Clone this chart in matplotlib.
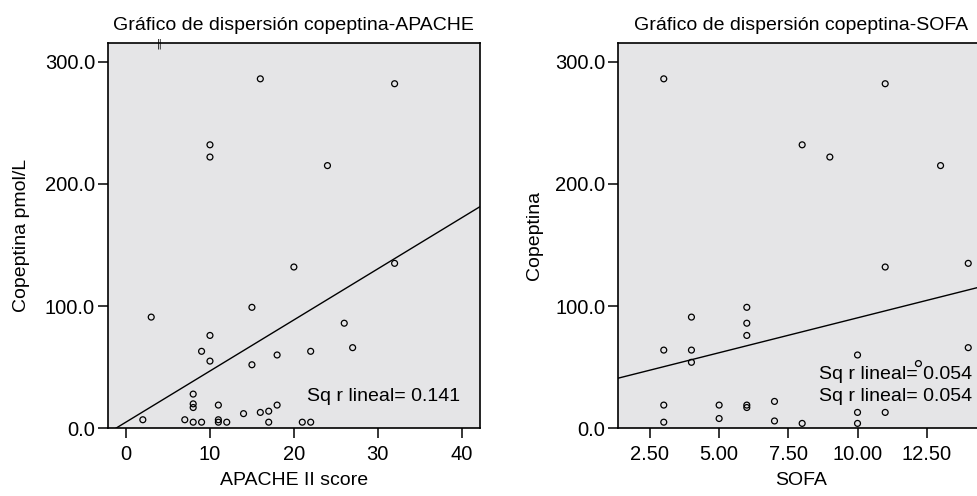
import numpy as np
import matplotlib
matplotlib.use('Agg')
import matplotlib.pyplot as plt

# APACHE II score vs copeptina (pmol/L)
apache_x = [16, 32, 10, 10, 24, 32, 20, 3, 15, 26, 10, 9, 22, 27, 10, 18, 15,
            8, 8, 8, 11, 18, 14, 16, 17, 2, 7, 8, 9, 11, 11, 12, 17, 21, 22]
apache_y = [286, 282, 232, 222, 215, 135, 132, 91, 99, 86, 76, 63, 63, 66, 55, 60, 52,
            28, 20, 17, 19, 19, 12, 13, 14, 7, 7, 5, 5, 7, 5, 5, 5, 5, 5]

# SOFA vs copeptina
sofa_x = [3, 11, 8, 9, 13, 14, 11, 4, 6, 6, 6, 3, 4, 4, 14, 10, 12.2,
          3, 5, 6, 6, 7, 3, 5, 7, 8, 10, 10, 11]
sofa_y = [286, 282, 232, 222, 215, 135, 132, 91, 99, 86, 76, 64, 64, 54, 66, 60, 53,
          19, 19, 19, 17, 22, 5, 8, 6, 4, 13, 4, 13]

# fitted lines (intercept, slope)
apache_fit = (5.1, 4.18)
sofa_fit = (33.3, 5.71)
apache_r2 = '0.141'
sofa_r2 = '0.054'

APACHE_TICKS = [0, 10, 20, 30, 40]
SOFA_TICKS = [2.5, 5.0, 7.5, 10.0, 12.5]
Y_TICKS = [0, 100, 200, 300]

BG = '#e5e5e7'
FS = 14

plt.rcParams['font.family'] = ['Liberation Sans', 'DejaVu Sans']

fig = plt.figure(figsize=(9.78, 4.96), dpi=100)
ax1 = fig.add_axes([0.110, 0.1365, 0.381, 0.776])
ax2 = fig.add_axes([0.632, 0.1365, 0.375, 0.776])


def style(ax):
    ax.set_facecolor(BG)
    for s in ax.spines.values():
        s.set_linewidth(1.2)
    ax.tick_params(direction='out', length=7, width=1.1, labelsize=14.5,
                   top=False, right=False, pad=2)
    ax.tick_params(axis='x', pad=5)
    ax.set_ylim(0, 315)
    ax.set_yticks(Y_TICKS)
    ax.set_yticklabels(['%.1f' % v for v in Y_TICKS])


# left panel
style(ax1)
ax1.set_xlim(-2.2, 42.2)
ax1.set_xticks(APACHE_TICKS)
ax1.scatter(apache_x, apache_y, s=18, facecolors='none', edgecolors='black',
            linewidths=0.9, zorder=3)
xs = np.array(ax1.get_xlim())
ax1.plot(xs, apache_fit[0] + apache_fit[1] * xs, color='black', lw=1.0)
ax1.text(0.945, 0.082, 'Sq r lineal= ' + apache_r2, transform=ax1.transAxes,
         ha='right', va='center', fontsize=FS)
ax1.text(3.9, 315, '\u2016', ha='center', va='center', fontsize=7,
         family='DejaVu Sans', clip_on=False)
ax1.set_title('Gráfico de dispersión copeptina-APACHE', fontsize=FS, pad=10)
ax1.set_xlabel('APACHE II score', fontsize=FS, labelpad=6)
ax1.set_ylabel('Copeptina pmol/L', fontsize=FS, labelpad=11)

# right panel
style(ax2)
ax2.set_xlim(1.35, 14.6)
ax2.set_xticks(SOFA_TICKS)
ax2.set_xticklabels(['%.2f' % v for v in SOFA_TICKS])
ax2.scatter(sofa_x, sofa_y, s=18, facecolors='none', edgecolors='black',
            linewidths=0.9, zorder=3)
xs = np.array(ax2.get_xlim())
ax2.plot(xs, sofa_fit[0] + sofa_fit[1] * xs, color='black', lw=1.0)
for yy in (0.141, 0.082):
    ax2.text(0.964, yy, 'Sq r lineal= ' + sofa_r2, transform=ax2.transAxes,
             ha='right', va='center', fontsize=FS)
ax2.set_title('Gráfico de dispersión copeptina-SOFA', fontsize=FS, pad=10)
ax2.set_xlabel('SOFA', fontsize=FS, labelpad=6)
ax2.set_ylabel('Copeptina', fontsize=FS, labelpad=9)

fig.savefig('out.png', dpi=100)
